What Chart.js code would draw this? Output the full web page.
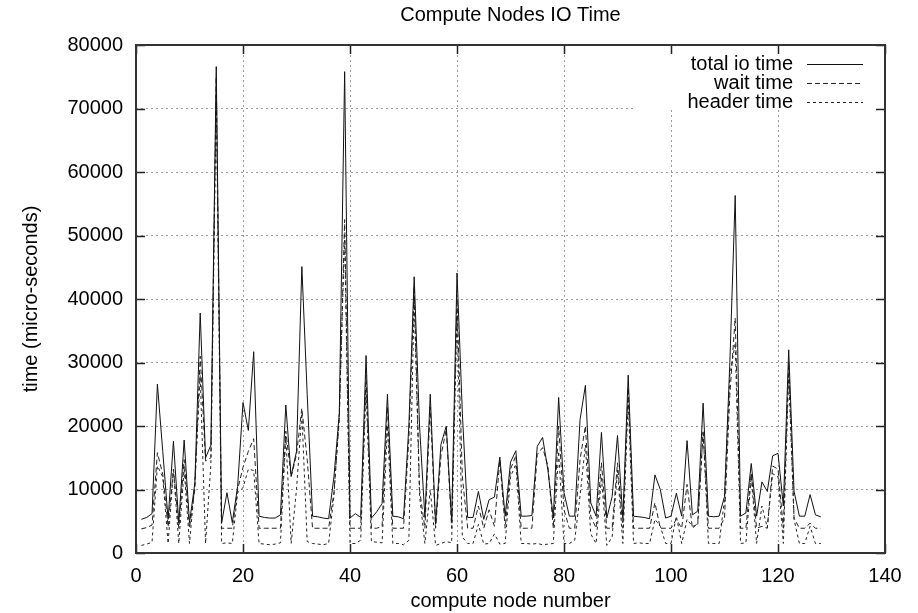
<!DOCTYPE html>
<html>
<head>
<meta charset="utf-8">
<title>Compute Nodes IO Time</title>
<script src="https://cdn.jsdelivr.net/npm/chart.js@4.4.1/dist/chart.umd.min.js"></script>
<style>
  html, body { margin: 0; padding: 0; background: #fff; }
  #ioChart { display: block; }
</style>
</head>
<body>
<canvas id="ioChart" width="918" height="613"></canvas>
<script>
// Valores (nós 1..128, tempo em micro-segundos)
const firstNode = 1;

const totalIoTime = [
  5300, 5600, 6200, 26600, 16000, 5300, 17600, 4700, 17800, 4800,
  11000, 37800, 15000, 17000, 76600, 4700, 9500, 4800, 10500, 23700,
  19300, 31700, 5800, 5600, 5500, 5500, 6000, 23300, 12100, 16000,
  45100, 25000, 5800, 5700, 5500, 5400, 12000, 22000, 75800, 5500,
  6200, 5600, 31100, 5500, 6500, 7800, 25000, 5800, 5700, 5400,
  20000, 43500, 20000, 5600, 25000, 4500, 17100, 20000, 5000, 44100,
  22000, 5600, 5600, 9700, 5300, 8400, 8800, 15100, 5800, 14300,
  16100, 5800, 5800, 5900, 16800, 18200, 13000, 5500, 24500, 9500,
  5800, 5800, 21000, 26400, 7900, 5800, 19000, 5500, 8900, 18500,
  5500, 28000, 5800, 5700, 5600, 5400, 12300, 10000, 5500, 5800,
  9400, 5800, 17700, 6000, 6600, 23600, 5800, 5700, 5800, 8900,
  30000, 56300, 5800, 6300, 14100, 5800, 11200, 9700, 15300, 15700,
  7400, 32000, 9700, 5800, 5800, 9200, 6000, 5700
];

const waitTime = [
  3800, 4000, 4400, 15800, 12400, 4100, 13200, 3900, 14700, 3900,
  10000, 31000, 14500, 15000, 75000, 3900, 3900, 3900, 10000, 13500,
  16000, 18000, 3900, 3900, 3900, 3900, 3900, 19200, 12000, 15500,
  22800, 14700, 3900, 3900, 3900, 3900, 9500, 21000, 52500, 3900,
  3900, 3900, 28000, 3900, 3900, 4200, 23000, 3900, 3900, 3900,
  18000, 42000, 10000, 3900, 23000, 3900, 15300, 19500, 3900, 40000,
  12000, 3900, 3900, 7400, 3900, 6800, 4200, 14700, 3900, 13200,
  15300, 3900, 3900, 3900, 15500, 16600, 13700, 3900, 20000, 6800,
  3900, 3900, 14700, 20000, 5800, 3900, 14200, 3900, 3900, 14200,
  3900, 26000, 3900, 3900, 3900, 3900, 7900, 3900, 3900, 3900,
  5300, 3900, 10800, 3900, 4700, 19000, 3900, 3900, 3900, 5500,
  25000, 37000, 3900, 3900, 12600, 3900, 4200, 3900, 13700, 13200,
  3900, 30000, 5500, 3900, 3900, 4700, 3900, 3900
];

const headerTime = [
  1200, 1400, 1700, 13700, 12000, 1500, 13200, 1500, 13200, 1500,
  11000, 28000, 1500, 14000, 72000, 1500, 1600, 1500, 9500, 10300,
  13200, 13000, 1500, 1400, 1300, 1400, 1600, 18400, 1500, 10000,
  22000, 1800, 1500, 1400, 1300, 1500, 9000, 22000, 50000, 1500,
  1500, 2000, 26000, 1800, 1700, 1600, 20000, 1500, 1500, 1300,
  2000, 40000, 9000, 1500, 10000, 1200, 1500, 1800, 1600, 38000,
  2500, 1500, 1500, 4500, 1400, 1500, 3000, 1400, 1500, 12000,
  14000, 1500, 1500, 1400, 1500, 1300, 1400, 1500, 16000, 1500,
  1500, 2000, 9000, 17000, 3000, 1500, 12000, 1200, 2500, 13000,
  1500, 24000, 1500, 1600, 1500, 1500, 5300, 4200, 1500, 1500,
  5800, 1500, 5300, 4200, 4400, 19200, 1500, 1500, 1500, 8400,
  28000, 33000, 1500, 1600, 12000, 1500, 7400, 4000, 12500, 12000,
  1500, 28000, 5300, 1500, 1500, 4200, 1500, 1500
];

const seriesLabels = ['total io time', 'wait time', 'header time'];
const xTicks = [0, 20, 40, 60, 80, 100, 120, 140];
const yTicks = [0, 10000, 20000, 30000, 40000, 50000, 60000, 70000, 80000];

const FONT = '"Liberation Sans", Arial, Helvetica, sans-serif';
const lineStyles = [
  { color: '#111', dash: [] },
  { color: '#222', dash: [5, 3] },
  { color: '#222', dash: [3, 3] }
];

function toPoints(values) {
  return values.map((v, i) => ({ x: firstNode + i, y: v }));
}

// Moldura, marcas internas, títulos e legenda no estilo gnuplot
const gnuplotFrame = {
  id: 'gnuplotFrame',
  beforeDatasetsDraw(chart) {
    const { ctx, chartArea: a } = chart;
    ctx.save();
    ctx.fillStyle = '#fff';
    ctx.fillRect(a.right - 249, a.top, 249, 64);
    ctx.restore();
  },
  afterDraw(chart) {
    const { ctx, chartArea: a, scales } = chart;
    const tick = 9;
    ctx.save();

    // marcas dos eixos (para dentro, nos quatro lados)
    ctx.strokeStyle = '#222';
    ctx.lineWidth = 1.5;
    ctx.setLineDash([]);
    ctx.beginPath();
    xTicks.forEach(v => {
      const px = Math.round(scales.x.getPixelForValue(v)) + 0.5;
      ctx.moveTo(px, a.bottom); ctx.lineTo(px, a.bottom - tick);
      ctx.moveTo(px, a.top); ctx.lineTo(px, a.top + tick);
    });
    yTicks.forEach(v => {
      const py = Math.round(scales.y.getPixelForValue(v)) + 0.5;
      ctx.moveTo(a.left, py); ctx.lineTo(a.left + tick, py);
      ctx.moveTo(a.right, py); ctx.lineTo(a.right - tick, py);
    });
    ctx.stroke();

    // moldura
    ctx.lineWidth = 2;
    ctx.strokeStyle = '#333';
    ctx.strokeRect(a.left, a.top, a.right - a.left, a.bottom - a.top);

    // títulos
    ctx.fillStyle = '#000';
    ctx.font = '20px ' + FONT;
    ctx.textAlign = 'center';
    ctx.textBaseline = 'middle';
    const cx = (a.left + a.right) / 2;
    ctx.fillText('Compute Nodes IO Time', cx, 15);
    ctx.fillText('compute node number', cx, 601);
    ctx.save();
    ctx.translate(31, (a.top + a.bottom) / 2);
    ctx.rotate(-Math.PI / 2);
    ctx.fillText('time (micro-seconds)', 0, 0);
    ctx.restore();

    // legenda
    ctx.textAlign = 'right';
    seriesLabels.forEach((label, i) => {
      const y = a.top + 19 + i * 19;
      ctx.fillStyle = '#000';
      ctx.fillText(label, a.right - 92, y);
      ctx.strokeStyle = lineStyles[i].color;
      ctx.lineWidth = 1;
      ctx.setLineDash(lineStyles[i].dash);
      ctx.beginPath();
      ctx.moveTo(a.right - 78, Math.round(y) + 0.5);
      ctx.lineTo(a.right - 22, Math.round(y) + 0.5);
      ctx.stroke();
    });
    ctx.restore();
  }
};

const ctx = document.getElementById('ioChart').getContext('2d');
new Chart(ctx, {
  type: 'line',
  data: {
    datasets: [totalIoTime, waitTime, headerTime].map((values, i) => ({
      label: seriesLabels[i],
      data: toPoints(values),
      borderColor: lineStyles[i].color,
      borderDash: lineStyles[i].dash,
      borderWidth: 1,
      pointRadius: 0,
      tension: 0,
      fill: false
    }))
  },
  options: {
    responsive: false,
    animation: false,
    layout: { padding: { top: 45, right: 33, left: 0, bottom: 0 } },
    plugins: {
      legend: { display: false },
      tooltip: { enabled: false },
      title: { display: false }
    },
    scales: {
      x: {
        type: 'linear',
        min: 0,
        max: 140,
        afterBuildTicks: s => { s.ticks = xTicks.map(v => ({ value: v })); },
        afterFit: s => { s.height = 60; },
        ticks: {
          padding: 11,
          maxRotation: 0,
          color: '#000',
          font: { family: FONT, size: 20 },
          callback: v => String(v)
        },
        grid: { color: '#9a9a9a', lineWidth: 1, drawTicks: false },
        border: { display: false, dash: [2, 3] }
      },
      y: {
        min: 0,
        max: 80000,
        afterBuildTicks: s => { s.ticks = yTicks.map(v => ({ value: v })); },
        afterFit: s => { s.width = 136; },
        ticks: {
          padding: 13,
          color: '#000',
          font: { family: FONT, size: 20 },
          callback: v => String(v)
        },
        grid: { color: '#9a9a9a', lineWidth: 1, drawTicks: false },
        border: { display: false, dash: [2, 3] }
      }
    }
  },
  plugins: [gnuplotFrame]
});
</script>
</body>
</html>
